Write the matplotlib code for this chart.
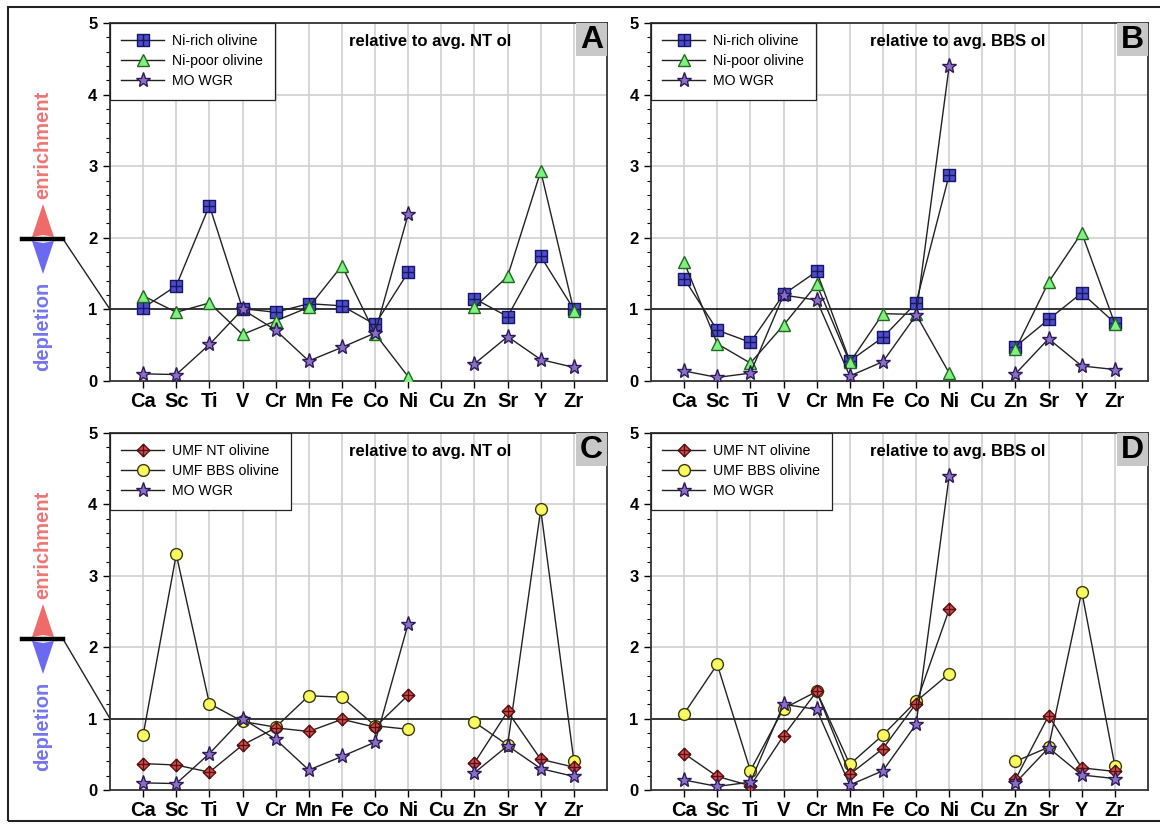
import numpy as np
import matplotlib
matplotlib.use("Agg")
import matplotlib.pyplot as plt
from matplotlib.path import Path
from matplotlib.patches import Polygon, Rectangle, ConnectionPatch
from matplotlib.lines import Line2D

plt.rcParams['font.family'] = ['Liberation Sans', 'DejaVu Sans']

elements = ['Ca', 'Sc', 'Ti', 'V', 'Cr', 'Mn', 'Fe', 'Co', 'Ni', 'Cu', 'Zn', 'Sr', 'Y', 'Zr']
nan = np.nan

# panel A (relative to avg. NT ol)
ni_rich_nt = [1.02, 1.33, 2.45, 1.01, 0.96, 1.08, 1.05, 0.79, 1.52, nan, 1.15, 0.90, 1.74, 1.00]
ni_poor_nt = [1.19, 0.96, 1.09, 0.65, 0.84, 1.03, 1.61, 0.66, 0.06, nan, 1.03, 1.46, 2.93, 0.98]
mo_wgr_nt = [0.10, 0.09, 0.51, 1.00, 0.71, 0.28, 0.47, 0.67, 2.33, nan, 0.24, 0.62, 0.30, 0.19]
# panel B (relative to avg. BBS ol)
ni_rich_bbs = [1.43, 0.71, 0.54, 1.21, 1.53, 0.28, 0.61, 1.09, 2.88, nan, 0.48, 0.86, 1.23, 0.81]
ni_poor_bbs = [1.66, 0.52, 0.25, 0.78, 1.35, 0.26, 0.94, 0.93, 0.11, nan, 0.44, 1.38, 2.07, 0.80]
mo_wgr_bbs = [0.14, 0.05, 0.11, 1.20, 1.13, 0.07, 0.27, 0.92, 4.40, nan, 0.10, 0.59, 0.21, 0.16]
# panel C (relative to avg. NT ol)
umf_nt_nt = [0.37, 0.35, 0.25, 0.63, 0.87, 0.82, 0.99, 0.88, 1.33, nan, 0.38, 1.10, 0.43, 0.32]
umf_bbs_nt = [0.77, 3.30, 1.21, 0.96, 0.88, 1.32, 1.30, 0.90, 0.85, nan, 0.95, 0.63, 3.93, 0.41]
# panel D (relative to avg. BBS ol)
umf_nt_bbs = [0.51, 0.19, 0.06, 0.76, 1.38, 0.22, 0.58, 1.21, 2.53, nan, 0.15, 1.04, 0.31, 0.26]
umf_bbs_bbs = [1.07, 1.76, 0.27, 1.14, 1.38, 0.36, 0.77, 1.24, 1.63, nan, 0.40, 0.60, 2.78, 0.34]

W, H = 1160, 824

# square / diamond with a cross inside
M, L, C = Path.MOVETO, Path.LINETO, Path.CLOSEPOLY
sq_plus = Path([(-1, -1), (1, -1), (1, 1), (-1, 1), (-1, -1), (0, -1), (0, 1), (-1, 0), (1, 0)],
               [M, L, L, L, C, M, L, M, L])
dia_plus = Path([(0, -1), (1, 0), (0, 1), (-1, 0), (0, -1), (0, -1), (0, 1), (-1, 0), (1, 0)],
                [M, L, L, L, C, M, L, M, L])

sty = {
    'nirich': dict(marker=sq_plus, ms=8, mfc='#4d4dc6', mec='#15156a', label='Ni-rich olivine'),
    'nipoor': dict(marker='^', ms=8.5, mfc='#80f080', mec='#1f6a1f', label='Ni-poor olivine'),
    'mo': dict(marker='*', ms=11, mfc='#8a70c4', mec='#2e1a5a', label='MO WGR'),
    'umfnt': dict(marker=dia_plus, ms=9, mfc='#d65050', mec='#5a1010', label='UMF NT olivine'),
    'umfbbs': dict(marker='o', ms=8.5, mfc='#fafa60', mec='#3a3a10', label='UMF BBS olivine'),
}

panels = [
    ('A', 'relative to avg. NT ol', [('nirich', ni_rich_nt, 3), ('nipoor', ni_poor_nt, 4), ('mo', mo_wgr_nt, 5)], 0.644),
    ('B', 'relative to avg. BBS ol', [('nirich', ni_rich_bbs, 3), ('nipoor', ni_poor_bbs, 4), ('mo', mo_wgr_bbs, 5)], 0.618),
    ('C', 'relative to avg. NT ol', [('umfnt', umf_nt_nt, 4), ('umfbbs', umf_bbs_nt, 3), ('mo', mo_wgr_nt, 5)], 0.644),
    ('D', 'relative to avg. BBS ol', [('umfnt', umf_nt_bbs, 4), ('umfbbs', umf_bbs_bbs, 3), ('mo', mo_wgr_bbs, 5)], 0.618),
]

# axes boxes in pixels: left, top, right, bottom
boxes = [(110, 23, 607, 381), (651, 23, 1148, 381), (110, 433, 607, 790), (651, 433, 1148, 790)]

fig = plt.figure(figsize=(W / 100, H / 100), dpi=100)
x = np.arange(1, len(elements) + 1)
axes = []
for (lab, title, series, tx), (l, t, r, b) in zip(panels, boxes):
    ax = fig.add_axes([l / W, 1 - b / H, (r - l) / W, (b - t) / H])
    axes.append(ax)
    ax.set_xlim(0, 15)
    ax.set_ylim(0, 5)
    ax.set_xticks(x)
    ax.set_xticklabels(elements, fontsize=14.5, fontweight='bold')
    ax.set_yticks([0, 1, 2, 3, 4, 5])
    ax.set_yticklabels(['0', '1', '2', '3', '4', '5'], fontsize=12, fontweight='bold')
    ax.set_yticks(np.arange(0, 5.01, 0.2), minor=True)
    ax.tick_params(axis='y', which='major', length=5, width=1, direction='out', pad=4)
    ax.tick_params(axis='y', which='minor', length=3, width=0.8, direction='out')
    ax.tick_params(axis='x', length=5, width=1, direction='out', pad=3)
    for s in ax.spines.values():
        s.set_linewidth(1.3)
        s.set_color('#333333')
    for xi in x:
        ax.axvline(xi, color='#cfcfcf', lw=1.2, zorder=0)
    for yi in [2, 3, 4]:
        ax.axhline(yi, color='#cfcfcf', lw=1.2, zorder=0)
    ax.axhline(1, color='black', lw=1.1, zorder=1)

    handles = {}
    for key, vals, z in series:
        ln, = ax.plot(x, vals, color='#222222', lw=1.0, mew=1.0, zorder=z, **sty[key])
        handles[key] = ln
    order = [k for k, _, _ in series]
    leg = ax.legend([handles[k] for k in order], [sty[k]['label'] for k in order],
                    loc='upper left', borderaxespad=0, fancybox=False, framealpha=1,
                    edgecolor='#222222', fontsize=10.2, handlelength=3.0, labelspacing=0.42,
                    borderpad=0.8, handletextpad=0.6)
    leg.get_frame().set_linewidth(0.9)
    leg.set_zorder(10)

    ax.text(tx, 0.947, title, transform=ax.transAxes, ha='center', va='center',
            fontsize=12, fontweight='bold', zorder=11)
    bw, bh = 31 / (r - l), 33 / (b - t)
    ax.add_patch(Rectangle((1 - bw, 1 - bh), bw, bh, transform=ax.transAxes,
                           facecolor='#c8c8c8', edgecolor='none', zorder=11))
    ax.text(1 - bw / 2, 1 - bh / 2, lab, transform=ax.transAxes, ha='center', va='center',
            fontsize=23, fontweight='bold', zorder=12)


def fx(px):
    return px / W


def fy(py):
    return 1 - py / H


# enrichment / depletion markers on the left
for ax, (txt_e, txt_d, ybar) in zip([axes[0], axes[2]], [(145, 326, 239), (545, 726, 639)]):
    fig.text(fx(43), fy(txt_e), 'enrichment', rotation=90, ha='center', va='center',
             fontsize=14.5, fontweight='bold', color='#f07575')
    fig.text(fx(43), fy(txt_d), 'depletion', rotation=90, ha='center', va='center',
             fontsize=14.5, fontweight='bold', color='#7575f0')
    fig.add_artist(Polygon([(fx(43), fy(ybar - 35)), (fx(54), fy(ybar - 2)), (fx(43), fy(ybar - 4)),
                            (fx(32), fy(ybar - 2))], closed=True, transform=fig.transFigure,
                           facecolor='#f06a6a', edgecolor='none'))
    fig.add_artist(Polygon([(fx(43), fy(ybar + 35)), (fx(54), fy(ybar + 2)), (fx(43), fy(ybar + 4)),
                            (fx(32), fy(ybar + 2))], closed=True, transform=fig.transFigure,
                           facecolor='#6a6af0', edgecolor='none'))
    fig.add_artist(Line2D([fx(22), fx(63)], [fy(ybar), fy(ybar)], transform=fig.transFigure,
                          color='black', lw=3.2))
    con = ConnectionPatch(xyA=(fx(63), fy(ybar)), coordsA=fig.transFigure,
                          xyB=(0, 1), coordsB=ax.transData, color='#222222', lw=1.0)
    fig.add_artist(con)

# outer frame
fig.add_artist(Rectangle((fx(8), fy(821)), fx(1160 - 8 + 10), (821 - 7) / H, transform=fig.transFigure,
                         fill=False, edgecolor='#222222', lw=1.5))

fig.savefig('out.png', dpi=100)
